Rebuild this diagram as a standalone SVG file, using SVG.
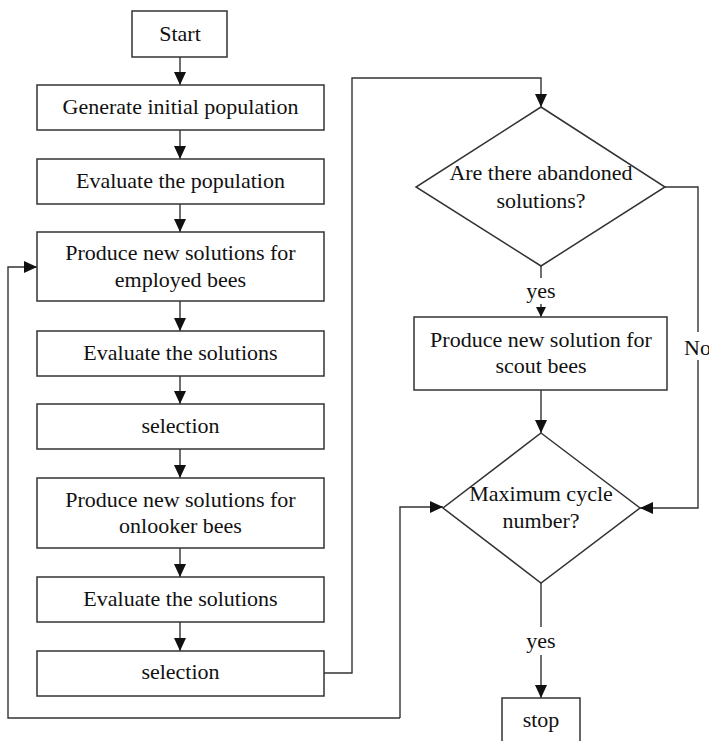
<svg xmlns="http://www.w3.org/2000/svg" width="709" height="741" viewBox="0 0 709 741">
<defs>
<marker id="a" markerUnits="userSpaceOnUse" markerWidth="13" markerHeight="12" viewBox="0 0 13 12" refX="13" refY="6" orient="auto">
<path d="M0,0 L13,6 L0,12 Z" fill="#111"/>
</marker>
<marker id="s" markerUnits="userSpaceOnUse" markerWidth="10" markerHeight="10" viewBox="0 0 10 10" refX="10" refY="5" orient="auto">
<path d="M0,0 L10,5 L0,10 Z" fill="#111"/>
</marker>
</defs>
<g id="connectors" fill="none" stroke="#333" stroke-width="1.4">
<path d="M180,57 V85" marker-end="url(#a)"/>
<path d="M180,130 V159" marker-end="url(#a)"/>
<path d="M180,204 V232" marker-end="url(#a)"/>
<path d="M180,301 V331" marker-end="url(#a)"/>
<path d="M180,376 V404" marker-end="url(#a)"/>
<path d="M180,449 V478" marker-end="url(#a)"/>
<path d="M180,548 V577" marker-end="url(#a)"/>
<path d="M180,622 V651" marker-end="url(#a)"/>
<path d="M324,673 H352 V78 H541 V107" marker-end="url(#a)"/>
<path d="M541,266 V278"/>
<path d="M541,304 V317" marker-end="url(#s)"/>
<path d="M665,187 H698 V332"/>
<path d="M698,360 V508 H640" marker-end="url(#a)"/>
<path d="M541,390 V433" marker-end="url(#a)"/>
<path d="M541,583 V627"/>
<path d="M541,655 V698" marker-end="url(#a)"/>
<path d="M400,718 V507 H443" marker-end="url(#a)"/>
<path d="M400,718 H8 V267 H37" marker-end="url(#a)"/>
</g>
<g id="labels">
<text x="541" y="298" font-size="24" font-family="'Liberation Serif'" text-anchor="middle" fill="#111" style="font-size:22px">yes</text>
<text x="541" y="648" font-size="22" font-family="'Liberation Serif'" text-anchor="middle" fill="#111">yes</text>
<text x="684" y="355" font-size="22" font-family="'Liberation Serif'" fill="#111">No</text>
</g>
<g fill="#fff" stroke="#333" stroke-width="1.5">
<rect x="132" y="11" width="95" height="46"/>
<rect x="37" y="85" width="287" height="45"/>
<rect x="37" y="159" width="287" height="45"/>
<rect x="37" y="232" width="287" height="69"/>
<rect x="37" y="331" width="287" height="45"/>
<rect x="37" y="404" width="287" height="45"/>
<rect x="37" y="478" width="287" height="70"/>
<rect x="37" y="577" width="287" height="45"/>
<rect x="37" y="651" width="287" height="45"/>
<path d="M541,107 L665,187 L541,266 L416,187 Z"/>
<rect x="414" y="317" width="253" height="73"/>
<path d="M541,433 L640,508 L541,583 L443,508 Z"/>
<rect x="502" y="698" width="78" height="50"/>
</g>
<g id="start"><text x="180" y="41" font-size="22" font-family="'Liberation Serif'" text-anchor="middle" fill="#111">Start</text></g>
<g id="generate"><text x="180.5" y="114" font-size="22" font-family="'Liberation Serif'" text-anchor="middle" fill="#111">Generate initial population</text></g>
<g id="evalpop"><text x="180.5" y="188" font-size="22" font-family="'Liberation Serif'" text-anchor="middle" fill="#111">Evaluate the population</text></g>
<g id="employed"><text x="180.5" y="260" font-size="22" font-family="'Liberation Serif'" text-anchor="middle" fill="#111">Produce new solutions for</text><text x="180.5" y="287" font-size="22" font-family="'Liberation Serif'" text-anchor="middle" fill="#111">employed bees</text></g>
<g id="eval1"><text x="180.5" y="360" font-size="22" font-family="'Liberation Serif'" text-anchor="middle" fill="#111">Evaluate the solutions</text></g>
<g id="sel1"><text x="180.5" y="433" font-size="22" font-family="'Liberation Serif'" text-anchor="middle" fill="#111">selection</text></g>
<g id="onlooker"><text x="180.5" y="507" font-size="22" font-family="'Liberation Serif'" text-anchor="middle" fill="#111">Produce new solutions for</text><text x="180.5" y="533" font-size="22" font-family="'Liberation Serif'" text-anchor="middle" fill="#111">onlooker bees</text></g>
<g id="eval2"><text x="180.5" y="606" font-size="22" font-family="'Liberation Serif'" text-anchor="middle" fill="#111">Evaluate the solutions</text></g>
<g id="sel2"><text x="180.5" y="679" font-size="22" font-family="'Liberation Serif'" text-anchor="middle" fill="#111">selection</text></g>
<g id="abandoned"><text x="541" y="180" font-size="22" font-family="'Liberation Serif'" text-anchor="middle" fill="#111">Are there abandoned</text><text x="541" y="208" font-size="22" font-family="'Liberation Serif'" text-anchor="middle" fill="#111">solutions?</text></g>
<g id="scout"><text x="541" y="347" font-size="22" font-family="'Liberation Serif'" text-anchor="middle" fill="#111">Produce new solution for</text><text x="541" y="373" font-size="22" font-family="'Liberation Serif'" text-anchor="middle" fill="#111">scout bees</text></g>
<g id="maxcycle"><text x="541" y="501" font-size="22" font-family="'Liberation Serif'" text-anchor="middle" fill="#111">Maximum cycle</text><text x="541" y="528" font-size="22" font-family="'Liberation Serif'" text-anchor="middle" fill="#111">number?</text></g>
<g id="stop"><text x="541" y="727" font-size="22" font-family="'Liberation Serif'" text-anchor="middle" fill="#111">stop</text></g>
</svg>
